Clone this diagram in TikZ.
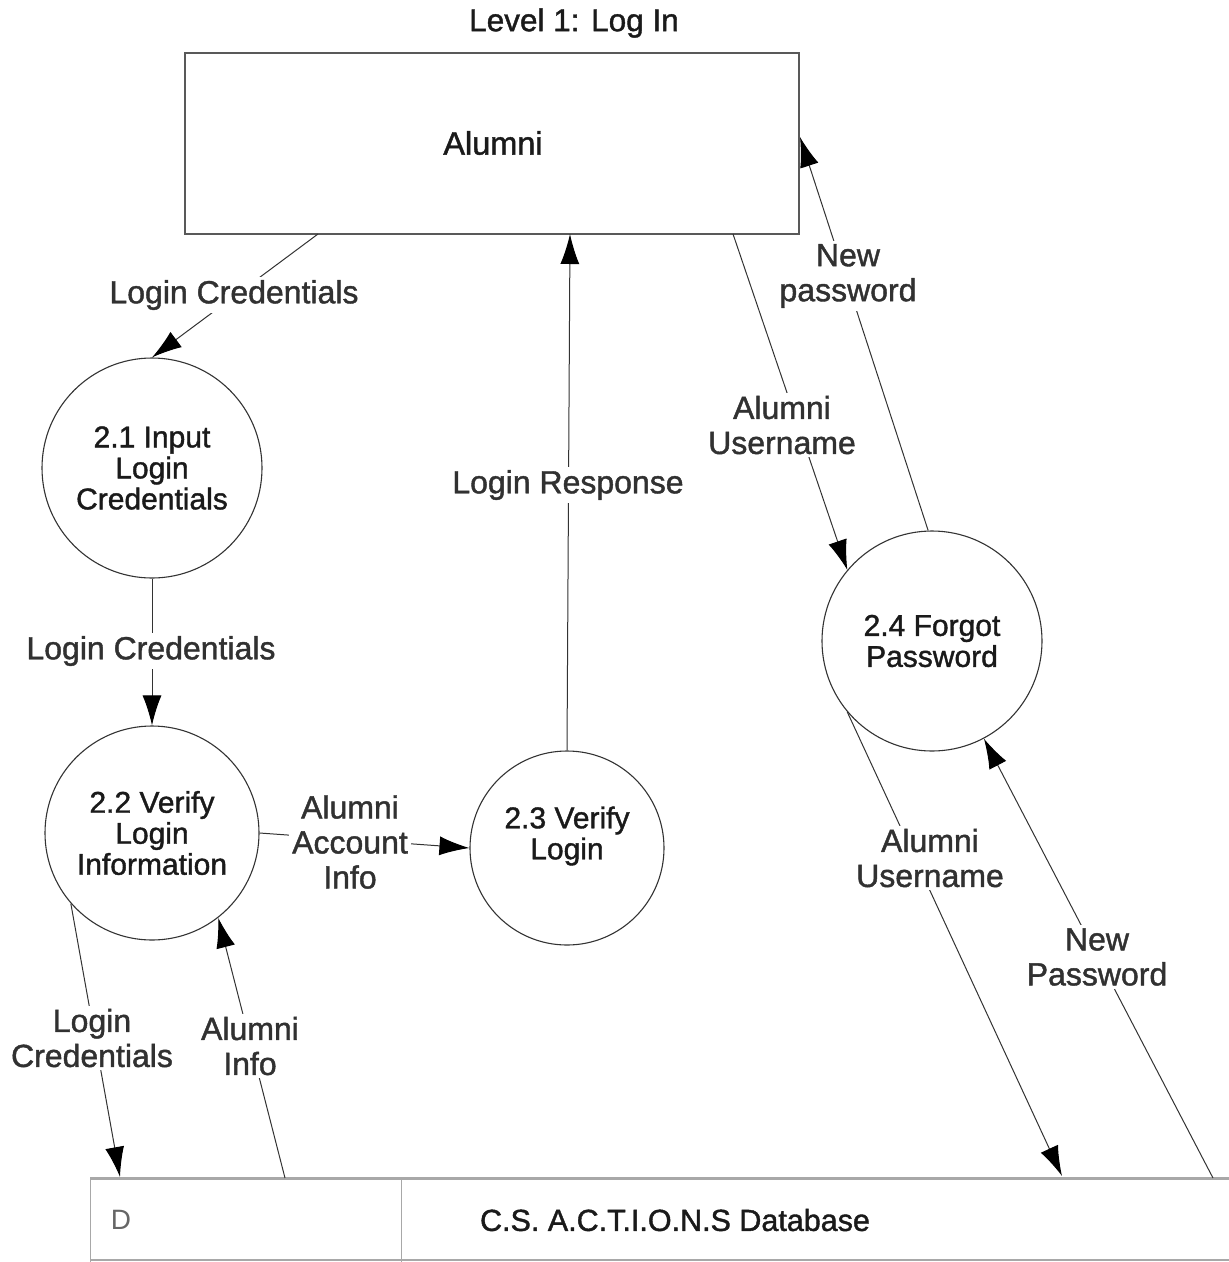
\documentclass[tikz,border=0pt]{standalone}
\usepackage{fontspec}
\setmainfont{Liberation Sans}
\newfontfamily\heavy{Liberation Sans}[FakeBold=1.3]
\usetikzlibrary{arrows.meta,calc}
\definecolor{linegray}{HTML}{333333}
\definecolor{edgegray}{HTML}{A8A8A8}
\definecolor{txt}{HTML}{1A1A1A}
\begin{document}
\begin{tikzpicture}[x=1pt,y=-1pt,
  proc/.style={circle,draw=linegray,line width=1.1pt,minimum size=#1,inner sep=0pt,
    align=center,font=\heavy\fontsize{30}{31}\selectfont,text=txt},
  flow/.style={draw=linegray,line width=1pt,-{Latex[length=30pt,width=19pt,black]}},
  lbl/.style={fill=white,align=center,inner sep=3pt,font=\heavy\fontsize{32}{35}\selectfont,text=txt!90!white},
]
\useasboundingbox (0,0) rectangle (1229,1262);

% title and external entity
\node[font=\heavy\fontsize{31.5}{34}\selectfont,text=txt] (title) at (574,23) {Level 1: Log In};
\draw[draw=gray!70!black,line width=1.6pt] (185,53) rectangle (799,234);
\node[font=\heavy\fontsize{32.5}{35}\selectfont,text=txt] (alumni) at (493,143) {Alumni};

% processes
\node[proc=220pt] (c21) at (152,468) {2.1 Input\\Login\\Credentials};
\node[proc=214pt] (c22) at (152,833) {2.2 Verify\\Login\\Information};
\node[proc=194pt] (c23) at (567,848) {};
\node[align=center,inner sep=0pt,font=\heavy\fontsize{30}{31}\selectfont,text=txt] (c23t) at (567,836) {2.3 Verify\\Login};
\node[proc=220pt] (c24) at (932,641) {2.4 Forgot\\Password};

% data store
\draw[draw=edgegray,line width=0.9pt] (90,1178) -- (90,1262) (401,1178) -- (401,1262);
\draw[draw=edgegray,line width=1.2pt] (90,1260) -- (1229,1260);
\draw[draw=edgegray,line width=3pt] (90,1178) -- (1229,1178);
\node[font=\fontsize{28}{33}\selectfont,text=gray!80!black] (dsid) at (121,1220) {D};
\node[font=\heavy\fontsize{30.5}{34}\selectfont,text=txt] (dsname) at (675,1220) {C.S. A.C.T.I.O.N.S Database};

% connector end points on the entity and the store
\coordinate (aLC) at (318,234);
\coordinate (aLR) at (570,234);
\coordinate (aAU) at (733,234);
\coordinate (aNP) at (800,137);
\coordinate (dLC) at (120,1177);
\coordinate (dAI) at (285,1178);
\coordinate (dAU) at (1062,1176);
\coordinate (dNP) at (1213,1178);

% flows
\draw[flow] (aLC) -- (c21.north);
\draw[flow] (c21.south) -- (c22.north);
\draw[flow] (c22.east) -- (c23.west);
\draw[flow] (c23.north) -- (aLR);
\draw[flow] (aAU) -- (c24.140);
\draw[flow] (c24.92) -- (aNP);
\draw[flow] (c22.221) -- (dLC);
\draw[flow] (dAI) -- (c22.308);
\draw[flow] (c24.220) -- (dAU);
\draw[flow] (dNP) -- (c24.298);

% flow labels
\node[lbl] (l1) at (234,295) {Login Credentials};
\node[lbl] (l2) at (151,651) {Login Credentials};
\node[lbl] (l3) at (350,842) {Alumni\\Account\\Info};
\node[lbl] (l4) at (568,485) {Login Response};
\node[lbl] (l5) at (782,425) {Alumni\\Username};
\node[lbl] (l6) at (848,276) {New\\password};
\node[lbl] (l7) at (92,1038) {Login\\Credentials};
\node[lbl] (l8) at (250,1046) {Alumni\\Info};
\node[lbl] (l9) at (930,858) {Alumni\\Username};
\node[lbl] (l10) at (1097,957) {New\\Password};
\end{tikzpicture}
\end{document}
